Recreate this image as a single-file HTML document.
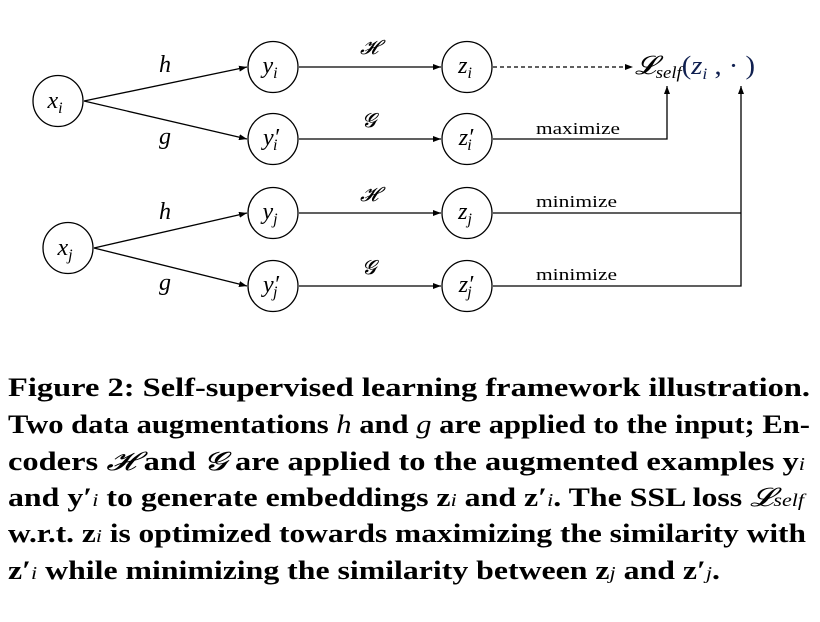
<!DOCTYPE html>
<html><head><meta charset="utf-8"><style>
html,body{margin:0;padding:0;background:#fff;}
svg{display:block}
</style></head><body>
<svg width="820" height="622" viewBox="0 0 820 622" xmlns="http://www.w3.org/2000/svg">
<defs>
<marker id="a" markerWidth="8" markerHeight="6" refX="8" refY="3" orient="auto" markerUnits="userSpaceOnUse"><path d="M0,0 L8,3 L0,6 z" fill="#000"/></marker>
</defs>
<g fill="none" stroke="#000" stroke-width="1.3">
<ellipse cx="58" cy="101" rx="25" ry="25.5"/>
<ellipse cx="68" cy="248" rx="25" ry="25.5"/>
<ellipse cx="273" cy="67" rx="25" ry="25.5"/>
<ellipse cx="273" cy="139" rx="25" ry="25.5"/>
<ellipse cx="273" cy="213" rx="25" ry="25.5"/>
<ellipse cx="273" cy="286" rx="25" ry="25.5"/>
<ellipse cx="467" cy="67" rx="25" ry="25.5"/>
<ellipse cx="467" cy="139" rx="25" ry="25.5"/>
<ellipse cx="467" cy="213" rx="25" ry="25.5"/>
<ellipse cx="467" cy="286" rx="25" ry="25.5"/>
<line x1="84" y1="101" x2="247" y2="67" marker-end="url(#a)"/>
<line x1="84" y1="101" x2="247" y2="139" marker-end="url(#a)"/>
<line x1="94" y1="248" x2="247" y2="213" marker-end="url(#a)"/>
<line x1="94" y1="248" x2="247" y2="286" marker-end="url(#a)"/>
<line x1="299" y1="67" x2="441" y2="67" marker-end="url(#a)"/>
<line x1="299" y1="139" x2="441" y2="139" marker-end="url(#a)"/>
<line x1="299" y1="213" x2="441" y2="213" marker-end="url(#a)"/>
<line x1="299" y1="286" x2="441" y2="286" marker-end="url(#a)"/>
<line x1="493" y1="67" x2="633" y2="67" stroke-dasharray="4,3" marker-end="url(#a)"/>
<polyline points="493,139 667,139 667,86" marker-end="url(#a)"/>
<line x1="493" y1="213" x2="741" y2="213"/>
<polyline points="493,286 741,286 741,86" marker-end="url(#a)"/>
</g>
<g font-family="Liberation Serif, serif" font-style="italic" font-size="24" fill="#000" text-anchor="middle">
<text x="55" y="108">x<tspan font-size="16" dy="5">i</tspan></text>
<text x="65" y="255">x<tspan font-size="16" dy="5">j</tspan></text>
<text x="270" y="73">y<tspan font-size="16" dy="5">i</tspan></text>
<text x="271" y="145">y′<tspan font-size="16" dy="5" dx="-6">i</tspan></text>
<text x="270" y="219">y<tspan font-size="16" dy="5">j</tspan></text>
<text x="271" y="292">y′<tspan font-size="16" dy="5" dx="-6">j</tspan></text>
<text x="465" y="73">z<tspan font-size="16" dy="5">i</tspan></text>
<text x="466" y="145">z′<tspan font-size="16" dy="5" dx="-6">i</tspan></text>
<text x="465" y="219">z<tspan font-size="16" dy="5">j</tspan></text>
<text x="466" y="292">z′<tspan font-size="16" dy="5" dx="-6">j</tspan></text>
<text x="165" y="72">h</text>
<text x="165" y="144">g</text>
<text x="165" y="219">h</text>
<text x="165" y="290">g</text>
<text x="369" y="54" font-size="20">𝓗</text>
<text x="369" y="127" font-size="20">𝓖</text>
<text x="369" y="201" font-size="20">𝓗</text>
<text x="369" y="274" font-size="20">𝓖</text>
</g>
<g font-family="Liberation Serif, serif" font-size="17" fill="#000">
<text x="536" y="134" textLength="84" lengthAdjust="spacingAndGlyphs">maximize</text>
<text x="536" y="207" textLength="81" lengthAdjust="spacingAndGlyphs">minimize</text>
<text x="536" y="280" textLength="81" lengthAdjust="spacingAndGlyphs">minimize</text>
</g>
<text x="635" y="74" font-family="Liberation Serif, serif" font-style="italic" font-size="26" fill="#000" textLength="120" lengthAdjust="spacingAndGlyphs">𝓛<tspan font-size="17" dy="4">self</tspan><tspan dy="-4" fill="#102050" font-style="normal">(</tspan><tspan fill="#102050">z</tspan><tspan font-size="16" dy="5" fill="#102050">i</tspan><tspan dy="-5" fill="#102050" font-style="normal"> , · )</tspan></text>
<g font-family="Liberation Serif, serif" font-weight="bold" font-size="26" fill="#000">
<text x="8" y="396" textLength="802" lengthAdjust="spacingAndGlyphs">Figure 2: Self-supervised learning framework illustration.</text>
<text x="8" y="433" textLength="802" lengthAdjust="spacingAndGlyphs">Two data augmentations <tspan font-style="italic" font-weight="normal">h</tspan> and <tspan font-style="italic" font-weight="normal">g</tspan> are applied to the input; En-</text>
<text x="8" y="470" textLength="797" lengthAdjust="spacingAndGlyphs">coders <tspan font-style="italic" font-weight="normal">𝓗</tspan> and <tspan font-style="italic" font-weight="normal">𝓖</tspan> are applied to the augmented examples y<tspan font-style="italic" font-weight="normal" font-size="18">i</tspan></text>
<text x="8" y="506" textLength="796" lengthAdjust="spacingAndGlyphs">and y′<tspan font-style="italic" font-weight="normal" font-size="18">i</tspan> to generate embeddings z<tspan font-style="italic" font-weight="normal" font-size="18">i</tspan> and z′<tspan font-style="italic" font-weight="normal" font-size="18">i</tspan>. The SSL loss <tspan font-style="italic" font-weight="normal">𝓛<tspan font-size="18">self</tspan></tspan></text>
<text x="8" y="542" textLength="798" lengthAdjust="spacingAndGlyphs">w.r.t. z<tspan font-style="italic" font-weight="normal" font-size="18">i</tspan> is optimized towards maximizing the similarity with</text>
<text x="8" y="579" textLength="712" lengthAdjust="spacingAndGlyphs">z′<tspan font-style="italic" font-weight="normal" font-size="18">i</tspan> while minimizing the similarity between z<tspan font-style="italic" font-weight="normal" font-size="18">j</tspan> and z′<tspan font-style="italic" font-weight="normal" font-size="18">j</tspan>.</text>
</g>
</svg>
</body></html>
